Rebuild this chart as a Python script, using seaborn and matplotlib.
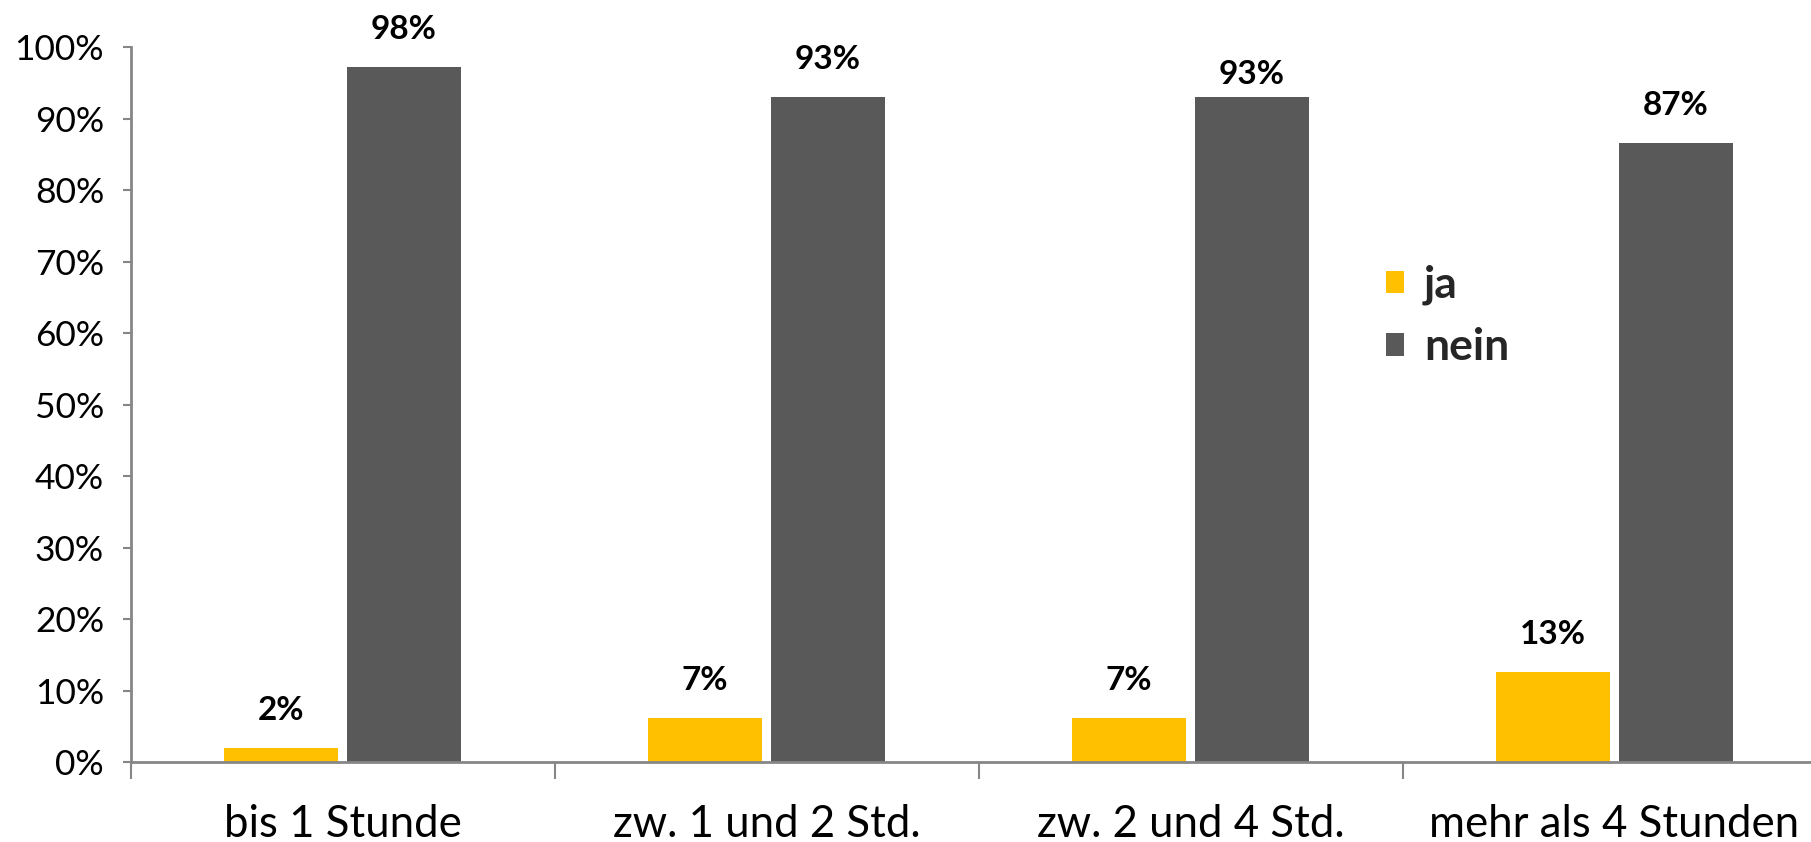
import matplotlib
matplotlib.use("Agg")
import matplotlib.pyplot as plt
import seaborn as sns
import pandas as pd
from matplotlib.patches import Patch

categories = ["bis 1 Stunde", "zw. 1 und 2 Std.", "zw. 2 und 4 Std.", "mehr als 4 Stunden"]
series = ["ja", "nein"]
ja_values = [2.05, 6.25, 6.15, 12.65]
nein_values = [97.2, 93.0, 93.1, 86.6]
ja_labels = ["2%", "7%", "7%", "13%"]
nein_labels = ["98%", "93%", "93%", "87%"]
y_ticks = [0, 10, 20, 30, 40, 50, 60, 70, 80, 90, 100]
y_tick_labels = [f"{t}%" for t in y_ticks]

colors = {"ja": "#FFC000", "nein": "#595959"}

sns.set_theme(style="white")
plt.rcParams["font.family"] = ["Lato", "DejaVu Sans"]

df = pd.DataFrame({
    "Kategorie": categories * 2,
    "Antwort": ["ja"] * len(categories) + ["nein"] * len(categories),
    "Wert": ja_values + nein_values,
})

W, H, DPI = 1811, 842, 100
fig = plt.figure(figsize=(W / DPI, H / DPI), dpi=DPI)
ax = fig.add_axes([130.5 / W, 79.7 / H, 1696 / W, 714.9 / H])

sns.barplot(data=df, x="Kategorie", y="Wert", hue="Antwort", order=categories,
            hue_order=series, palette=colors, width=0.58, gap=0.07,
            saturation=1, edgecolor="none", ax=ax, legend=False)

ax.set_xlim(-0.5, 3.5)
ax.set_ylim(0, 100)
ax.set_xlabel("")
ax.set_ylabel("")

# y axis
ax.set_yticks(y_ticks)
ax.set_yticklabels(y_tick_labels, fontsize=25.5)
ax.tick_params(axis="y", which="major", direction="out", length=6, width=1.5,
               color="#868686", pad=13, labelcolor="black", left=True)

# x axis: boundary ticks (major) and centred labels (minor)
ax.set_xticks([-0.5, 0.5, 1.5, 2.5])
ax.set_xticklabels([])
ax.set_xticks(range(len(categories)), minor=True)
ax.set_xticklabels(categories, minor=True, fontsize=31.5)
ax.tick_params(axis="x", which="major", direction="out", length=12, width=1.5,
               color="#868686", bottom=True)
ax.tick_params(axis="x", which="minor", length=0, pad=30, labelcolor="black")

for s in ["top", "right"]:
    ax.spines[s].set_visible(False)
for s in ["left", "bottom"]:
    ax.spines[s].set_color("#868686")
    ax.spines[s].set_linewidth(2)
ax.grid(False)

# value labels
label_offsets = [[27, 27, 27, 27], [27, 27, 16, 27]]
for ci, (cont, labels) in enumerate(zip(ax.containers, [ja_labels, nein_labels])):
    for bi, (bar, lab) in enumerate(zip(cont, labels)):
        x = bar.get_x() + bar.get_width() / 2
        y = bar.get_height()
        ax.annotate(lab, (x, y), xytext=(0, label_offsets[ci][bi]),
                    textcoords="offset points", ha="center", va="center",
                    fontsize=24, fontweight="bold", color="black",
                    bbox=dict(boxstyle="square,pad=0.15", fc="white", ec="none"),
                    annotation_clip=False, zorder=5)

handles = [Patch(facecolor=colors[s], edgecolor="none", label=s) for s in series]
leg = fig.legend(handles=handles, loc="center left",
                 bbox_to_anchor=(1386 / W, 1 - 316 / H), bbox_transform=fig.transFigure,
                 frameon=False, prop={"size": 32, "weight": "bold"},
                 handlelength=0.4, handleheight=0.4, handletextpad=0.45,
                 labelspacing=0.5, borderpad=0, borderaxespad=0)

fig.savefig("out.png", dpi=DPI)
